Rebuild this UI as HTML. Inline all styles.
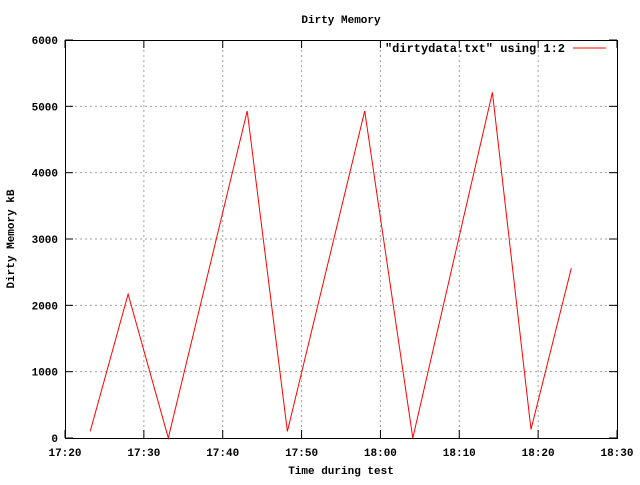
<!DOCTYPE html>
<html><head><meta charset="utf-8"><style>
html,body{margin:0;padding:0;background:#fff;}
svg text{font-family:"Liberation Mono","DejaVu Sans Mono",monospace;font-size:11px;font-weight:bold;fill:#000;}
</style></head><body>
<svg id="chart" width="640" height="480" xmlns="http://www.w3.org/2000/svg">
<text x="341" y="23" text-anchor="middle">Dirty Memory</text>
<g id="grid"></g>
<g id="axes"></g>
<g id="series"></g>
<text x="341" y="474" text-anchor="middle">Time during test</text>
<text transform="translate(14,239) rotate(-90)" text-anchor="middle">Dirty Memory kB</text>
<g>
<text x="565" y="52" text-anchor="end" style="font-size:12px">"dirtydata.txt" using 1:2</text>
<line x1="573" y1="48" x2="606" y2="48" stroke="#f00" stroke-width="1"/>
</g>
</svg>
<script>
// minutes since 17:20
const times = [3.2, 8.0, 13.1, 23.1, 28.2, 38.0, 44.1, 54.2, 59.1, 64.2];
const values = [100, 2170, 0, 4930, 100, 4930, 0, 5210, 130, 2560];
const xTickMinutes = [0, 10, 20, 30, 40, 50, 60, 70];
const xTickLabels = ["17:20","17:30","17:40","17:50","18:00","18:10","18:20","18:30"];
const yTicks = [0, 1000, 2000, 3000, 4000, 5000, 6000];

const L=65,R=617,T=40,B=438;
const NS="http://www.w3.org/2000/svg";
const xs=m=>L+(m/70)*(R-L);
const ys=v=>B-(v/6000)*(B-T);
function mk(tag,attrs,parent){const e=document.createElementNS(NS,tag);for(const k in attrs)e.setAttribute(k,attrs[k]);parent.appendChild(e);return e;}
const grid=document.getElementById('grid'),axes=document.getElementById('axes'),series=document.getElementById('series');

yTicks.forEach(v=>{
  const y=ys(v);
  if(v>0&&v<6000){const g=mk('line',{x1:L,x2:R,y1:y,y2:y,stroke:'#a0a0a0','stroke-dasharray':'2,3'},grid);
  
  }
  const t1=mk('line',{x1:L,x2:L+8,y1:y,y2:y,stroke:'#000'},axes);
  
  
  const t2=mk('line',{x1:R-8,x2:R,y1:y,y2:y,stroke:'#000'},axes);
  
  
  const tx=mk('text',{x:L-7,y:y+4,'text-anchor':'end'},axes);tx.textContent=v;
  
  
});
xTickMinutes.forEach((m,i)=>{
  const x=xs(m);
  if(m>0&&m<70){const g=mk('line',{x1:x,x2:x,y1:T,y2:B,stroke:'#a0a0a0','stroke-dasharray':'2,3'},grid);
  
  }
  const t1=mk('line',{x1:x,x2:x,y1:B,y2:B-8,stroke:'#000'},axes);
  
  
  const t2=mk('line',{x1:x,x2:x,y1:T,y2:T+8,stroke:'#000'},axes);
  
  
  const tx=mk('text',{x:x,y:B+18,'text-anchor':'middle'},axes);tx.textContent=xTickLabels[i];
  
  
});
const frame=mk('rect',{x:L+0.5,y:T+0.5,width:R-L,height:B-T,fill:'none',stroke:'#000'},axes);


const pts=times.map((m,i)=>xs(m).toFixed(1)+','+ys(values[i]).toFixed(1)).join(' ');
const line=mk('polyline',{points:pts,fill:'none',stroke:'#f00','stroke-width':1},series);


</script>
</body></html>
